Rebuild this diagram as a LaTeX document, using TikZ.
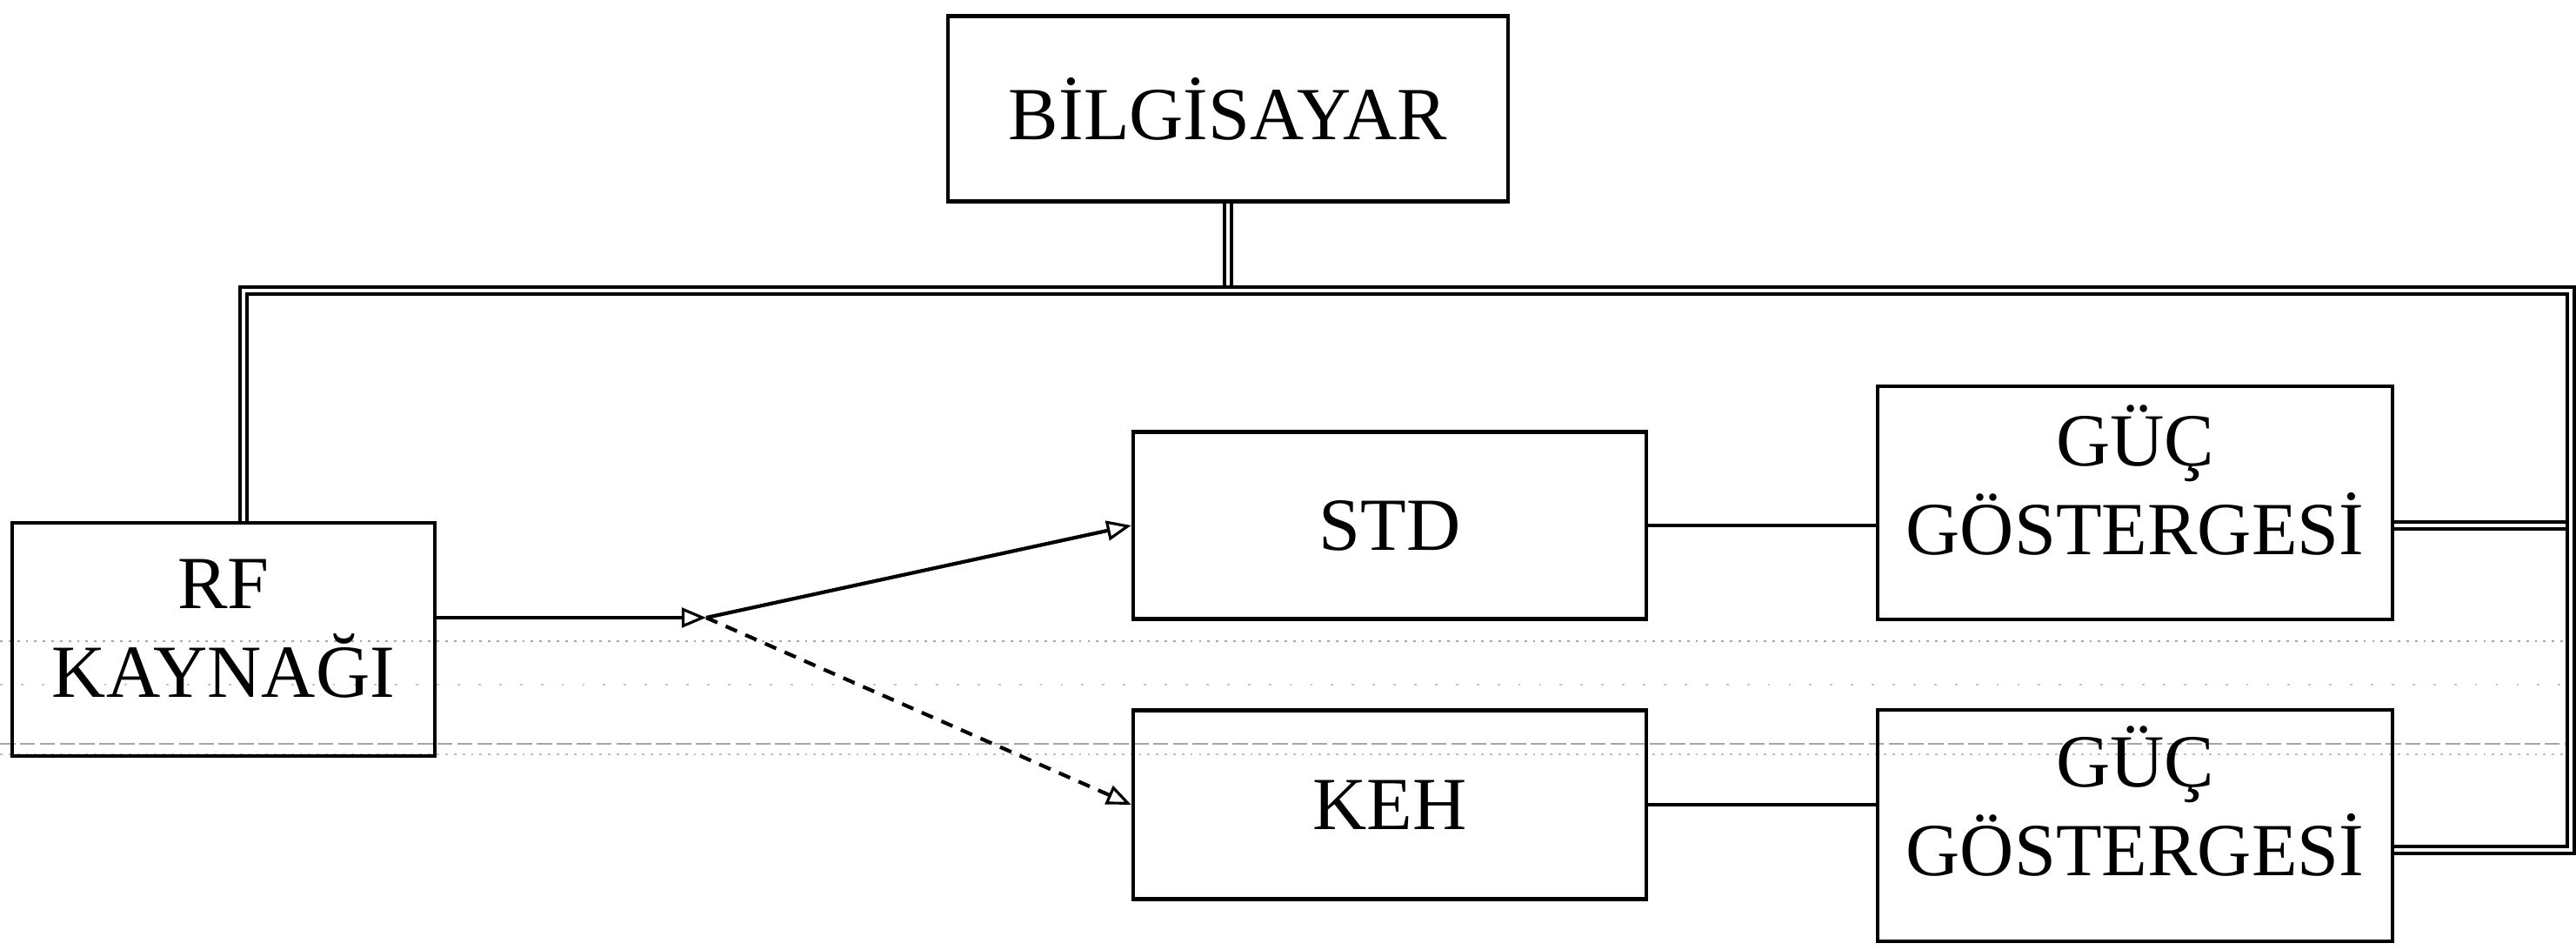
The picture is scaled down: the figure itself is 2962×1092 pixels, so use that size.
\documentclass[tikz,border=0pt]{standalone}
\usepackage{fontspec}
\setmainfont{Liberation Serif}
\usetikzlibrary{arrows.meta}
\begin{document}
\begin{tikzpicture}[x=0.01cm,y=-0.01cm,
  blk/.style={draw, line width=1.2pt, align=center, inner sep=0pt,
    font=\fontsize{24.5}{29}\selectfont},
  txt/.style={align=center, inner sep=0pt, font=\fontsize{24.5}{29}\selectfont},
  wire/.style={line width=1.2pt},
  bus/.style={double, double distance=1.3pt, line width=1.1pt},
  tip/.style={-{Triangle[open, length=8pt, width=6.5pt, line width=0.9pt]}},
  scan/.style={gray!70, line width=0.8pt}]
\useasboundingbox (0,0) rectangle (2962,1092);
% scanner streaks
\draw[scan, dotted] (0,737) -- (2962,737);
\draw[scan, gray!45, dash pattern=on 0.8pt off 6pt] (0,787) -- (2962,787);
\draw[scan, dash pattern=on 5pt off 1.5pt] (0,855) -- (2962,855);
\draw[scan, gray!50, dotted] (0,867) -- (2962,867);
% blocks
\node[blk, minimum width=6.44cm, minimum height=2.13cm] (bil) at (1412,125) {BİLGİSAYAR};
\node[blk, minimum width=4.85cm, minimum height=2.68cm,
  label={[txt, yshift=3.5pt]center:RF\\KAYNAĞI}] (rf) at (257,735) {};
\node[blk, minimum width=5.90cm, minimum height=2.15cm] (std) at (1598,604) {STD};
\node[blk, minimum width=5.90cm, minimum height=2.17cm] (keh) at (1598,925) {KEH};
\node[blk, minimum width=5.91cm, minimum height=2.68cm,
  label={[txt, yshift=7.5pt]center:GÜÇ\\GÖSTERGESİ}] (g1) at (2455,578) {};
\node[blk, minimum width=5.91cm, minimum height=2.66cm,
  label={[txt, yshift=8pt]center:GÜÇ\\GÖSTERGESİ}] (g2) at (2455,949) {};
% bus coordinates
\coordinate (bl) at (280,334);
\coordinate (br) at (2956,334);
\coordinate (g1r) at (2956,604);
\coordinate (g2r) at (2956,977);
\coordinate (split) at (812,710);
% bus branches
\draw[bus] (bil.south) -- (bil.south |- bl);
\draw[bus] (g1.east |- g1r) -- (g1r);
% main bus
\draw[bus] (rf.north -| bl) -- (bl) -- (br) -- (g2r) -- (g2.east |- g2r);
% signal path
\draw[wire, tip] (rf.east |- split) -- (split);
\draw[wire, tip] (split) -- (std.west);
\draw[wire, tip, dash pattern=on 4pt off 3pt] (split) -- (keh.west);
\draw[wire] (std.east) -- (std.east -| g1.west);
\draw[wire] (keh.east) -- (keh.east -| g2.west);
\end{tikzpicture}
\end{document}
